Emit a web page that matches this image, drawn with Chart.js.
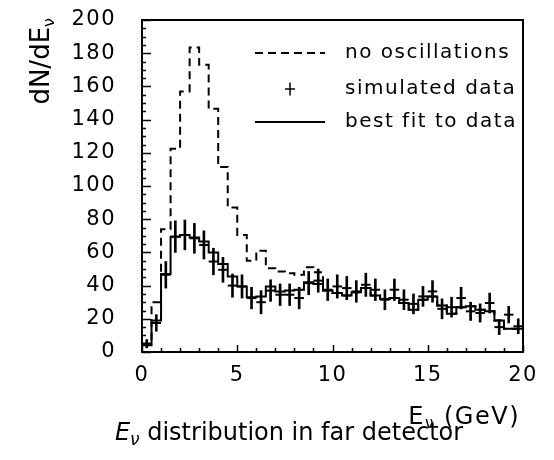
<!DOCTYPE html>
<html>
<head>
<meta charset="utf-8">
<script src="https://cdn.jsdelivr.net/npm/chart.js@4/dist/chart.umd.min.js"></script>
<style>
  html, body { margin: 0; padding: 0; background: #fff; }
  canvas { display: block; }
</style>
</head>
<body>
<canvas id="chart" width="554" height="460"></canvas>
<script>
// Neutrino energy spectrum in the far detector, 0.5 GeV bins from 0 to 20 GeV.
const binEdges = [0, 0.5, 1, 1.5, 2, 2.5, 3, 3.5, 4, 4.5, 5, 5.5, 6, 6.5, 7, 7.5, 8, 8.5, 9, 9.5,
                  10, 10.5, 11, 11.5, 12, 12.5, 13, 13.5, 14, 14.5, 15, 15.5, 16, 16.5, 17, 17.5, 18, 18.5, 19, 19.5, 20];
const binCenters = [0.25, 0.75, 1.25, 1.75, 2.25, 2.75, 3.25, 3.75, 4.25, 4.75, 5.25, 5.75, 6.25, 6.75, 7.25, 7.75,
                    8.25, 8.75, 9.25, 9.75, 10.25, 10.75, 11.25, 11.75, 12.25, 12.75, 13.25, 13.75, 14.25, 14.75,
                    15.25, 15.75, 16.25, 16.75, 17.25, 17.75, 18.25, 18.75, 19.25, 19.75];

// Expected spectrum without oscillations
const noOscillations = [5, 30, 74, 122.5, 157, 183.5, 173, 146.5, 111.5, 87, 70.5, 55, 61, 50.5, 48.5, 47.5, 46.5, 51, 48, 37,
                        35.5, 34, 36, 38.5, 34, 32, 32.5, 29.5, 25.5, 31.5, 33.5, 28, 23, 27, 27.5, 25.5, 24.5, 19, 14, 14];
// Best fit to the simulated data
const bestFit = [4, 19, 47, 69.5, 70.5, 69, 66.5, 60, 53, 45.5, 39.5, 33, 33.5, 39.5, 36.5, 37, 37.5, 42, 41, 37,
                 35.5, 34, 36, 38.5, 34, 32, 32.5, 29.5, 25.5, 31.5, 33.5, 28, 23, 27, 27.5, 25.5, 24.5, 19, 14, 14];
// Simulated data and its statistical errors
const simulatedData = [5, 17.5, 46.5, 69.5, 70.5, 68.5, 64.5, 54.5, 49.5, 40, 39.5, 32.5, 30, 37, 34.5, 34.5, 32.5, 41.5, 43, 37.5,
                       39.5, 38.5, 36.5, 40.5, 37.5, 31.5, 37.5, 31.5, 29, 33.5, 36.5, 26, 27, 32.5, 24.5, 23.5, 29.5, 15, 22.5, 15.5];
const simulatedErr = [2.5, 5, 8, 9.5, 9, 9, 8.5, 8, 7.5, 7, 7, 6.5, 7, 6.5, 6.5, 6.5, 6.5, 7, 7, 6.5,
                      7, 7, 6.5, 7, 6.5, 6, 6.5, 6, 6, 6, 6.5, 6, 6, 6.5, 5.5, 5.5, 6, 4.5, 5, 4.5];

const xTickValues = [0, 5, 10, 15, 20];
const yTickValues = [0, 20, 40, 60, 80, 100, 120, 140, 160, 180, 200];
const xMinorStep = 1;
const yMinorStep = 5;

const FONT = "'DejaVu Sans', sans-serif";

function stepSeries(values) {
  return binEdges.map((x, i) => ({ x, y: values[Math.min(i, values.length - 1)] }));
}

function halfBinPx(ctx) {
  const s = ctx.chart.scales.x;
  return Math.abs(s.getPixelForValue(binEdges[1]) - s.getPixelForValue(binEdges[0])) / 2;
}

// Draws a row of text runs (used for subscripts and italics)
function drawRuns(ctx, runs, x, y, align, spacing) {
  ctx.textBaseline = 'alphabetic';
  ctx.textAlign = 'left';
  const widths = runs.map(r => {
    ctx.font = r.font;
    ctx.letterSpacing = r.spacing || spacing || '0px';
    return ctx.measureText(r.text).width;
  });
  const total = widths.reduce((a, b) => a + b, 0);
  let cx = align === 'right' ? x - total : align === 'center' ? x - total / 2 : x;
  runs.forEach((r, i) => {
    ctx.font = r.font;
    ctx.letterSpacing = r.spacing || spacing || '0px';
    ctx.fillText(r.text, cx, y + (r.dy || 0));
    cx += widths[i];
  });
}

const tickSpacing = {
  id: 'tickSpacing',
  beforeDraw(chart) { chart.ctx.letterSpacing = '1.5px'; },
  afterDatasetsDraw(chart) { chart.ctx.letterSpacing = '0px'; }
};

// Frame around the plot and inward tick marks
const frameTicks = {
  id: 'frameTicks',
  afterDraw(chart) {
    const { ctx, chartArea: a, scales: { x, y } } = chart;
    ctx.save();
    ctx.strokeStyle = '#000';
    ctx.lineWidth = 1.5;
    ctx.beginPath();
    for (let v = y.min; v <= y.max; v += yMinorStep) {
      const py = Math.round(y.getPixelForValue(v)) + 0.5;
      const len = yTickValues.includes(v) ? 9 : 4;
      ctx.moveTo(a.left, py);
      ctx.lineTo(a.left + len, py);
    }
    for (let v = x.min; v <= x.max; v += xMinorStep) {
      const px = Math.round(x.getPixelForValue(v)) + 0.5;
      const len = xTickValues.includes(v) ? 7 : 4;
      ctx.moveTo(px, a.bottom);
      ctx.lineTo(px, a.bottom - len);
    }
    ctx.stroke();
    ctx.lineWidth = 2;
    ctx.strokeRect(a.left, a.top, a.right - a.left, a.bottom - a.top);
    ctx.restore();
  }
};

// Legend box in the upper right of the plot
const legendBox = {
  id: 'legendBox',
  afterDraw(chart) {
    const { ctx, chartArea: a } = chart;
    const ds = chart.data.datasets;
    const rows = [
      { kind: 'dash', label: ds[3].label, dy: 33 },
      { kind: 'cross', label: ds[0].label, dy: 69 },
      { kind: 'solid', label: ds[2].label, dy: 102 }
    ];
    const x0 = a.left + 113, x1 = a.left + 183, tx = a.left + 203;
    ctx.save();
    ctx.strokeStyle = '#000';
    ctx.fillStyle = '#000';
    rows.forEach(r => {
      const yy = a.top + r.dy;
      ctx.beginPath();
      if (r.kind === 'cross') {
        const cx = (x0 + x1) / 2;
        ctx.lineWidth = 1.5;
        ctx.moveTo(cx - 5, yy); ctx.lineTo(cx + 5, yy);
        ctx.moveTo(cx, yy - 6.5); ctx.lineTo(cx, yy + 6.5);
        ctx.setLineDash([]);
      } else {
        ctx.lineWidth = 2;
        ctx.setLineDash(r.kind === 'dash' ? [8, 5] : []);
        ctx.moveTo(x0, yy); ctx.lineTo(x1, yy);
      }
      ctx.stroke();
      ctx.setLineDash([]);
      ctx.font = `20px ${FONT}`;
      ctx.letterSpacing = '1.5px';
      ctx.textAlign = 'left';
      ctx.textBaseline = 'middle';
      ctx.fillText(r.label, tx, yy);
    });
    ctx.restore();
  }
};

// Axis titles and the caption below the plot
const titles = {
  id: 'titles',
  afterDraw(chart) {
    const { ctx, chartArea: a } = chart;
    ctx.save();
    ctx.fillStyle = '#000';
    // y axis title, rotated
    ctx.save();
    ctx.translate(49, a.top - 2);
    ctx.rotate(-Math.PI / 2);
    drawRuns(ctx, [
      { text: 'dN/dE', font: `26px ${FONT}` },
      { text: 'ν', font: `16px ${FONT}`, dy: 5 }
    ], 0, 0, 'right', '0px');
    ctx.restore();
    // x axis title
    drawRuns(ctx, [
      { text: 'E', font: `24px ${FONT}` },
      { text: 'ν', font: `15px ${FONT}`, dy: 4 },
      { text: ' (GeV)', font: `24px ${FONT}` }
    ], a.right - 3, 424, 'right', '1.5px');
    // caption
    drawRuns(ctx, [
      { text: 'E', font: `italic 24px ${FONT}` },
      { text: 'ν', font: `italic 17px ${FONT}`, dy: 5 },
      { text: ' distribution in far detector', font: `24px ${FONT}` }
    ], 289, 440, 'center', '0px');
    ctx.restore();
  }
};

function noLabelOverflow(s) {
  s.paddingTop = 0;
  s.paddingBottom = 0;
  s.paddingLeft = 0;
  s.paddingRight = 0;
}

new Chart(document.getElementById('chart'), {
  type: 'line',
  data: {
    datasets: [
      {
        type: 'bar',
        label: 'simulated data',
        data: binCenters.map((x, i) => ({ x, y: [simulatedData[i] - simulatedErr[i], simulatedData[i] + simulatedErr[i]] })),
        backgroundColor: '#000',
        borderWidth: 0,
        barThickness: 2,
        order: 0
      },
      {
        type: 'line',
        label: 'simulated data',
        data: binCenters.map((x, i) => ({ x, y: simulatedData[i] })),
        showLine: false,
        pointStyle: 'line',
        pointRadius: halfBinPx,
        pointBorderWidth: 2,
        pointBorderColor: '#000',
        borderColor: '#000',
        order: 1
      },
      {
        type: 'line',
        label: 'best fit to data',
        data: stepSeries(bestFit),
        stepped: 'before',
        borderColor: '#000',
        borderWidth: 2,
        pointRadius: 0,
        fill: false,
        order: 2
      },
      {
        type: 'line',
        label: 'no oscillations',
        data: stepSeries(noOscillations),
        stepped: 'before',
        borderColor: '#000',
        borderWidth: 2,
        borderDash: [8, 5],
        pointRadius: 0,
        fill: false,
        order: 3
      }
    ]
  },
  options: {
    responsive: false,
    animation: false,
    events: [],
    layout: { padding: { left: 0, top: 20, right: 31, bottom: 40 } },
    plugins: {
      legend: { display: false },
      tooltip: { enabled: false }
    },
    scales: {
      x: {
        type: 'linear',
        min: 0,
        max: 20,
        offset: false,
        afterBuildTicks: s => { s.ticks = xTickValues.map(value => ({ value })); },
        afterFit: s => { s.height = 68; noLabelOverflow(s); },
        grid: { display: false },
        border: { display: false },
        ticks: { color: '#000', font: { family: FONT, size: 21 }, padding: 3, maxRotation: 0, autoSkip: false }
      },
      y: {
        type: 'linear',
        min: 0,
        max: 200,
        afterBuildTicks: s => { s.ticks = yTickValues.map(value => ({ value })); },
        afterFit: s => { s.width = 142; noLabelOverflow(s); },
        grid: { display: false },
        border: { display: false },
        ticks: { color: '#000', font: { family: FONT, size: 21 }, padding: 18, autoSkip: false }
      }
    }
  },
  plugins: [tickSpacing, frameTicks, legendBox, titles]
});
</script>
</body>
</html>
